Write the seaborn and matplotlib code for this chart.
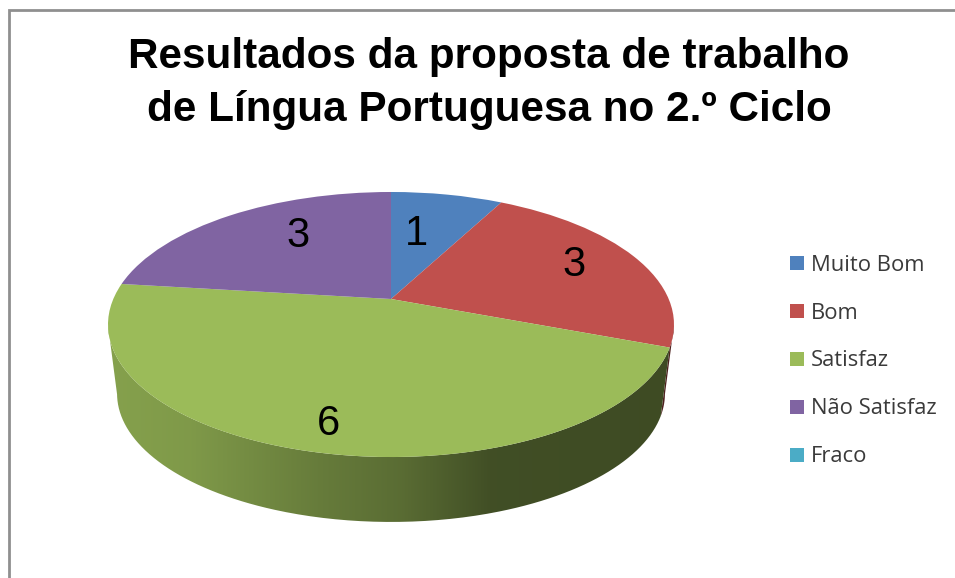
"""
Resultados da proposta de trabalho - 3D style pie chart
Flat pie wedges are pushed through a perspective transform, then a shaded wall is added below.
"""

import numpy as np
import matplotlib
matplotlib.use('Agg')
import matplotlib.pyplot as plt
from matplotlib.patches import PathPatch
from matplotlib.path import Path
from matplotlib.transforms import Transform
import seaborn as sns

# ---------------------------- DATA ------------------------------------

CATEGORIES = ["Muito Bom", "Bom", "Satisfaz", "Não Satisfaz", "Fraco"]
VALUES = [1, 3, 6, 3, 0]
COLORS = ["#4F81BD", "#C0504D", "#9BBB59", "#8064A2", "#4BACC6"]
TITLE = "Resultados da proposta de trabalho\nde Língua Portuguesa no 2.º Ciclo"

# ---------------------------- CONFIG ----------------------------------

W, H = 955, 578
APEX_X, APEX_Y = 391, 299
PERSP_A, PERSP_B, PERSP_K = 127.6, 277.7, 0.1924
WALL_SCALE, WALL_DROP = 0.968, 70

# wall shading, left to right across the figure
SHADE_X = [110, 190, 320, 400, 490, 680]
SHADE_V = [0.86, 0.82, 0.66, 0.58, 0.42, 0.40]

# pixel nudges of the value labels from their wedge's mid-angle point
LABEL_RADIUS = 0.65
LABEL_NUDGE = [(-13, 7), (21, -6), (-13, 33), (16, -6)]


def project(x, y, scale=1.0, drop=0.0):
    """Unit pie coordinates to figure pixels."""
    d = 1 + PERSP_K * y
    return (APEX_X + scale * PERSP_B * x / d,
            APEX_Y + drop - scale * PERSP_A * y / d)


class Tilt(Transform):
    input_dims = 2
    output_dims = 2

    def transform_non_affine(self, values):
        xs, ys = project(values[:, 0], values[:, 1])
        return np.column_stack([xs, ys])


def draw_wall(ax, wedge, color):
    # only the front of the rim shows: it ends where the ellipse has its side tangent
    t = np.radians(np.linspace(wedge.theta1, wedge.theta2, 300))
    t = t[np.sin(t) <= -PERSP_K]
    if len(t) < 2:
        return
    top = project(np.cos(t), np.sin(t))
    low = project(np.cos(t), np.sin(t), WALL_SCALE, WALL_DROP)
    pts = np.column_stack([np.r_[top[0], low[0][::-1]], np.r_[top[1], low[1][::-1]]])

    xs = np.arange(100, 690)
    shade = np.interp(xs, SHADE_X, SHADE_V)
    rgb = np.outer(shade, matplotlib.colors.to_rgb(color))[np.newaxis, :, :]
    im = ax.imshow(rgb, extent=(100, 690, 540, 150), aspect="auto", zorder=1,
                   interpolation="bilinear")
    clip = PathPatch(Path(np.vstack([pts, pts[:1]])), transform=ax.transData)
    im.set_clip_path(clip)


def main():
    sns.set_theme(style="white")
    palette = sns.color_palette(COLORS)

    fig = plt.figure(figsize=(W / 100, H / 100), dpi=100)
    ax = fig.add_axes([0, 0, 1, 1])

    wedges, _ = ax.pie(VALUES, colors=palette, startangle=90, counterclock=False,
                       wedgeprops={"linewidth": 0})

    ax.set_aspect("auto")
    for wedge, color in zip(wedges, palette):
        wedge.set_transform(Tilt() + ax.transData)
        wedge.set_clip_on(False)
        wedge.set_zorder(3)
        if wedge.theta2 > wedge.theta1:
            draw_wall(ax, wedge, color)

    ax.set_xlim(0, W)
    ax.set_ylim(H, 0)
    ax.axis("off")

    # value labels
    for wedge, value, nudge in zip(wedges, VALUES, LABEL_NUDGE):
        mid = np.radians((wedge.theta1 + wedge.theta2) / 2)
        px, py = project(LABEL_RADIUS * np.cos(mid), LABEL_RADIUS * np.sin(mid))
        ax.text(px + nudge[0], py + nudge[1], str(value), ha="center", va="center",
                fontsize=30, family="Liberation Sans", color="black", zorder=5)

    ax.text(489, 83.5, TITLE, ha="center", va="center", fontsize=30.4,
            fontweight="bold", family="Liberation Sans", color="black",
            linespacing=1.39, zorder=5)

    ax.legend(wedges, CATEGORIES, loc="center left", bbox_to_anchor=(790 / W, 1 - 361 / H),
              bbox_transform=fig.transFigure, frameon=False, borderpad=0, borderaxespad=0,
              prop={"family": "Open Sans", "size": 15.8}, labelcolor="#3a3a3a",
              handlelength=0.62, handleheight=0.62, handletextpad=0.34, labelspacing=1.23)

    # chart border, cropped at the right and bottom
    ax.plot([9, 9, W], [H, 10, 10], color="#8f8f8f", lw=2, zorder=6,
            solid_joinstyle="miter", clip_on=True)

    fig.savefig("out.png", dpi=100)


if __name__ == "__main__":
    main()
